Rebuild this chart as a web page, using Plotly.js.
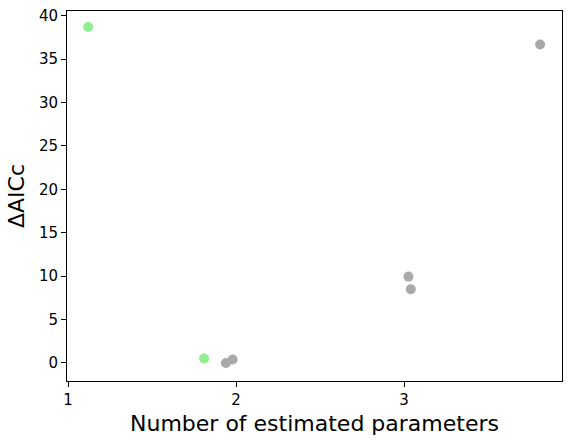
<!DOCTYPE html>
<html><head><meta charset="utf-8">
<script src="https://cdn.plot.ly/plotly-3.0.1.min.js"></script>
<style>body{margin:0;padding:0;background:#fff}#chart{width:572px;height:444px}</style>
</head><body><div id="chart"></div>
<script>
const greenX = [1.12, 1.81];
const greenY = [38.7, 0.52];
const grayX = [1.94, 1.98, 3.026, 3.04, 3.81];
const grayY = [0.0, 0.4, 9.95, 8.5, 36.7];
const xTicks = [1, 2, 3];
const yTicks = [0, 5, 10, 15, 20, 25, 30, 35, 40];

const font = 'DejaVu Sans, sans-serif';
const traces = [
  {x: greenX, y: greenY, mode: 'markers', type: 'scatter', marker: {color: '#90EE90', size: 10}},
  {x: grayX, y: grayY, mode: 'markers', type: 'scatter', marker: {color: '#A9A9A9', size: 10}}
];
const layout = {
  width: 572, height: 444,
  margin: {l: 67, r: 10, t: 11, b: 63},
  showlegend: false,
  paper_bgcolor: '#fff', plot_bgcolor: '#fff',
  font: {family: font, color: '#000'},
  xaxis: {
    range: [0.994, 3.94], tickvals: xTicks, ticktext: xTicks.map(String),
    ticks: 'outside', ticklen: 5, tickwidth: 1, tickcolor: '#000',
    showgrid: false, zeroline: false, showline: true, linecolor: '#000', linewidth: 1, mirror: true,
    tickfont: {size: 15, family: font},
    title: {text: 'Number of estimated parameters', font: {size: 22, family: font}, standoff: 7}
  },
  yaxis: {
    range: [-2.08, 40.55], tickvals: yTicks, ticktext: yTicks.map(String),
    ticks: 'outside', ticklen: 5, tickwidth: 1, tickcolor: '#000',
    showgrid: false, zeroline: false, showline: true, linecolor: '#000', linewidth: 1, mirror: true,
    tickfont: {size: 15, family: font},
    title: {text: 'ΔAICc', font: {size: 22, family: font}, standoff: 8}
  }
};
Plotly.newPlot('chart', traces, layout, {staticPlot: true, displayModeBar: false});
</script></body></html>
